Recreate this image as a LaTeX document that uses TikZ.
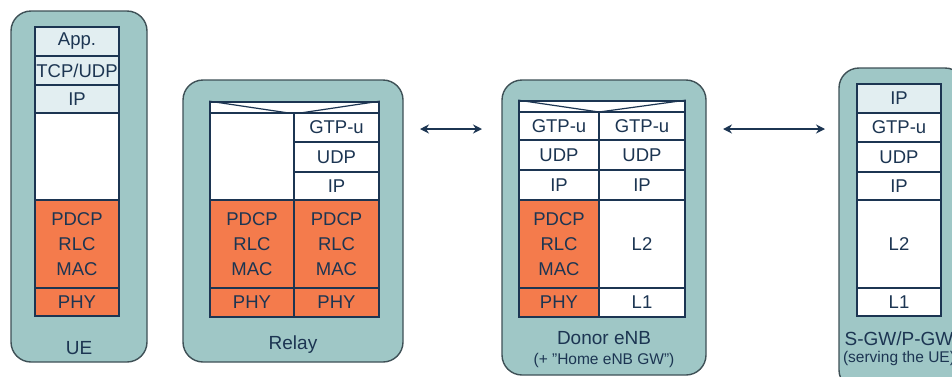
\documentclass[tikz,border=0pt]{standalone}
\usepackage{fontspec}
\setmainfont{Liberation Sans}
\usetikzlibrary{arrows.meta}
\definecolor{panelfill}{HTML}{9FC7C6}
\definecolor{panelline}{HTML}{3E5056}
\definecolor{navy}{HTML}{1C3552}
\definecolor{orangecell}{HTML}{F47B4C}
\definecolor{lightcell}{HTML}{E2EEF1}
\tikzset{
  panel/.style={fill=panelfill, draw=panelline, line width=1.4pt, rounded corners=20pt},
  cell/.style={draw=navy, line width=1.7pt, inner sep=0pt, fill=white, text=navy,
    font=\fontsize{18.5}{25}\selectfont, align=center},
  orng/.style={cell, fill=orangecell},
  lite/.style={cell, fill=lightcell},
  lbl/.style={text=navy, font=\fontsize{19}{22}\selectfont, inner sep=0pt},
  sublbl/.style={text=navy, font=\fontsize{15.5}{17}\selectfont, inner sep=0pt},
  biarrow/.style={draw=navy, line width=2.2pt, {Stealth[length=9pt,width=9pt]}-{Stealth[length=9pt,width=9pt]}}
}
\begin{document}
\begin{tikzpicture}[x=1pt,y=-1pt]
\useasboundingbox (0,0) rectangle (952,376);
\clip (0,0) rectangle (952,376);
% panels
\draw[panel] (11,11) rectangle (147,362);
\draw[panel] (183,80) rectangle (403,362);
\draw[panel] (502,80) rectangle (706,375);
\draw[panel] (839,68) rectangle (965,390);

% UE stack
\node[lite, minimum width=84pt, minimum height=29pt] (ueapp) at (77,41.5) {App.};
\node[lite, minimum width=84pt, minimum height=29pt] (uetcp) at (77,70.5) {TCP/UDP};
\node[lite, minimum width=84pt, minimum height=28pt] (ueip) at (77,99) {IP};
\node[cell, minimum width=84pt, minimum height=87pt] (ueempty) at (77,156.5) {};
\node[orng, minimum width=84pt, minimum height=88pt] (uemac) at (77,244) {PDCP\\RLC\\MAC};
\node[orng, minimum width=84pt, minimum height=28pt] (uephy) at (77,302) {PHY};
\node[lbl] (uelbl) at (79,348) {UE};

% Relay stack
\node[cell, minimum width=169pt, minimum height=11pt] (rbar) at (294.5,107.5) {};
\draw[navy, line width=1.2pt] (rbar.north west) -- (rbar.south) -- (rbar.north east);
\node[cell, minimum width=84pt, minimum height=87pt] (rempty) at (252,156.5) {};
\node[cell, minimum width=85pt, minimum height=29pt] (rgtp) at (336.5,127.5) {GTP-u};
\node[cell, minimum width=85pt, minimum height=30pt] (rudp) at (336.5,157) {UDP};
\node[cell, minimum width=85pt, minimum height=28pt] (rip) at (336.5,186) {IP};
\node[orng, minimum width=84pt, minimum height=88pt] (rmacl) at (252,244) {PDCP\\RLC\\MAC};
\node[orng, minimum width=85pt, minimum height=88pt] (rmacr) at (336.5,244) {PDCP\\RLC\\MAC};
\node[orng, minimum width=84pt, minimum height=29pt] (rphyl) at (252,302.5) {PHY};
\node[orng, minimum width=85pt, minimum height=29pt] (rphyr) at (336.5,302.5) {PHY};
\node[lbl] (rlbl) at (293,345) {Relay};

% Donor eNB stack
\node[cell, minimum width=166pt, minimum height=11pt] (dbar) at (602,106.5) {};
\draw[navy, line width=1.2pt] (dbar.north west) -- (599,112) -- (dbar.north east);
\node[cell, minimum width=80pt, minimum height=28pt] (dgtpl) at (559,126) {GTP-u};
\node[cell, minimum width=86pt, minimum height=28pt] (dgtpr) at (642,126) {GTP-u};
\node[cell, minimum width=80pt, minimum height=30pt] (dudpl) at (559,155) {UDP};
\node[cell, minimum width=86pt, minimum height=30pt] (dudpr) at (642,155) {UDP};
\node[cell, minimum width=80pt, minimum height=30pt] (dipl) at (559,185) {IP};
\node[cell, minimum width=86pt, minimum height=30pt] (dipr) at (642,185) {IP};
\node[orng, minimum width=80pt, minimum height=88pt] (dmac) at (559,244) {PDCP\\RLC\\MAC};
\node[cell, minimum width=86pt, minimum height=88pt] (dl2) at (642,244) {L2};
\node[orng, minimum width=80pt, minimum height=29pt] (dphy) at (559,302.5) {PHY};
\node[cell, minimum width=86pt, minimum height=29pt] (dl1) at (642,302.5) {L1};
\node[lbl] (dlbl) at (604,338) {Donor eNB};
\node[sublbl] (dsub) at (604,360) {(+ "Home eNB GW")};

% S-GW/P-GW stack
\node[lite, minimum width=84pt, minimum height=29pt] (sip1) at (899,98.5) {IP};
\node[cell, minimum width=84pt, minimum height=29pt] (sgtp) at (899,127.5) {GTP-u};
\node[cell, minimum width=84pt, minimum height=30pt] (sudp) at (899,157) {UDP};
\node[cell, minimum width=84pt, minimum height=28pt] (sip2) at (899,186) {IP};
\node[cell, minimum width=84pt, minimum height=88pt] (sl2) at (899,244) {L2};
\node[cell, minimum width=84pt, minimum height=28pt] (sl1) at (899,302) {L1};
\node[lbl] (slbl) at (899,339) {S-GW/P-GW};
\node[sublbl] (ssub) at (899,358) {(serving the UE)};

% arrows
\coordinate (a1l) at (420,129);
\coordinate (a1r) at (482,129);
\coordinate (a2l) at (723,129);
\coordinate (a2r) at (825,129);
\draw[biarrow] (a1l) -- (a1r);
\draw[biarrow] (a2l) -- (a2r);
\end{tikzpicture}
\end{document}
